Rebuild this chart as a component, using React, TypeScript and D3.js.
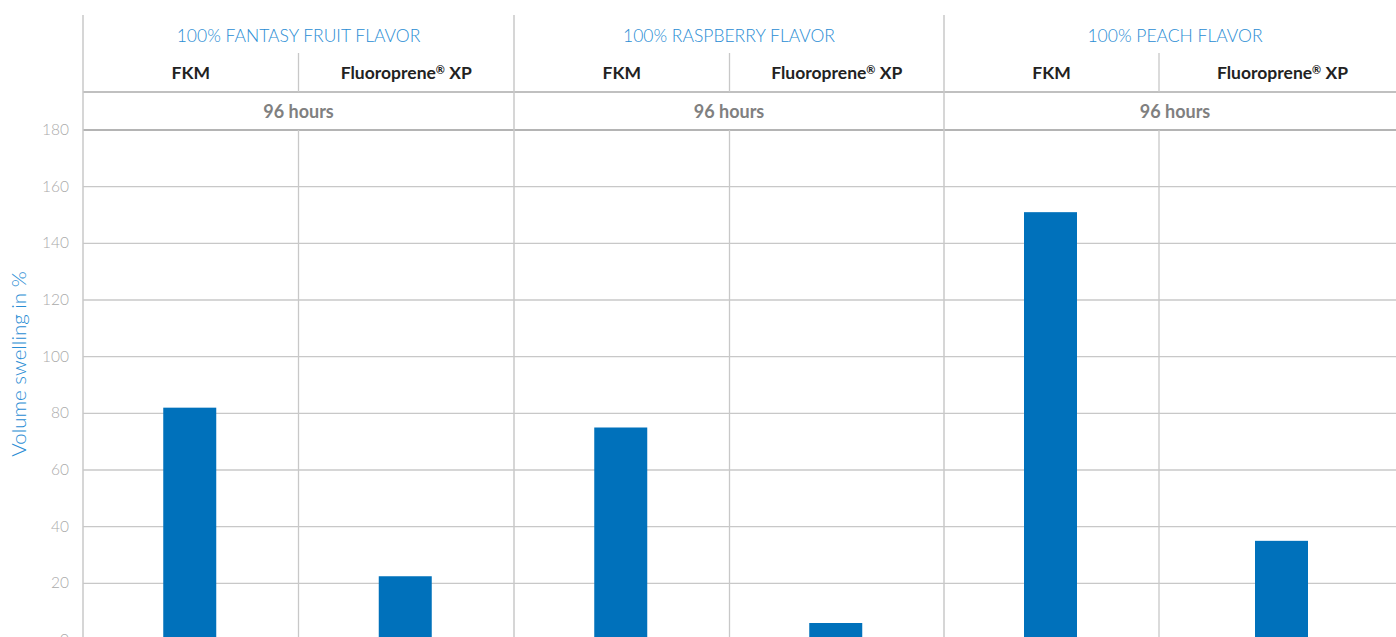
import React from "react";
import * as d3 from "d3";

const flavors = ["100% FANTASY FRUIT FLAVOR", "100% RASPBERRY FLAVOR", "100% PEACH FLAVOR"];
const materials = ["FKM", "Fluoroprene® XP"];
const duration = "96 hours";
const values = [
  [82, 22.5],
  [75, 6],
  [151, 35],
];
const yTicks = [0, 20, 40, 60, 80, 100, 120, 140, 160, 180];
const yTitle = "Volume swelling in %";

const W = 1396;
const H = 637;
const left = 83;
const plotTop = 130;
const zeroY = 640;
// column boundaries (the last group is wider and runs past the picture's right edge)
const colEdges = [83, 298.5, 514, 729.5, 944, 1159, 1406];

export default function App() {
  const y = d3.scaleLinear().domain([0, 180]).range([zeroY, plotTop]);
  const colStart = (g: number, i: number) => colEdges[g * 2 + i];
  const colEnd = (g: number, i: number) => colEdges[g * 2 + i + 1];
  const colMid = (g: number, i: number) => (colStart(g, i) + colEnd(g, i)) / 2;
  const barW = 53;
  const grid = "#c8c8c8";
  const font = "Lato, 'Open Sans', sans-serif";
  return (
    <svg width={W} height={H} style={{ position: "absolute", left: 0, top: 0, display: "block" }} fontFamily={font}>
      <rect width={W} height={H} fill="#fff" />
      {yTicks.filter((t) => t !== 180).map((t) => (
        <line key={t} x1={left} x2={W} y1={y(t)} y2={y(t)} stroke={grid} strokeWidth={1.3} />
      ))}
      <line x1={left} x2={W} y1={y(180)} y2={y(180)} stroke="#b4b4b4" strokeWidth={2} />
      <line x1={left} x2={W} y1={92} y2={92} stroke="#c0c0c0" strokeWidth={2} />
      <line x1={left} x2={left} y1={15} y2={H} stroke={grid} strokeWidth={1.5} />
      {[0, 1, 2].map((g) => {
        const gs = colStart(g, 0);
        const ge = colEnd(g, 1);
        const mid = colStart(g, 1);
        return (
          <g key={g}>
            {g > 0 && <line x1={gs} x2={gs} y1={15} y2={H} stroke={grid} strokeWidth={1.5} />}
            <line x1={mid} x2={mid} y1={53} y2={92} stroke={grid} strokeWidth={1.3} />
            <line x1={mid} x2={mid} y1={plotTop} y2={H} stroke={grid} strokeWidth={1.3} />
            <text x={(gs + ge) / 2} y={42} textAnchor="middle" fill="#2a8dd4" fontSize={17.5} fontWeight={300}>
              {flavors[g]}
            </text>
            {materials.map((m, i) => (
              <text key={m} x={colMid(g, i)} y={79} textAnchor="middle" fill="#222" fontSize={17.5} fontWeight={700}>
                {m === "Fluoroprene® XP" ? (
                  <>
                    Fluoroprene<tspan fontSize={11} dy={-5}>®</tspan><tspan dy={5}> XP</tspan>
                  </>
                ) : m}
              </text>
            ))}
            <text x={(gs + ge) / 2} y={118} textAnchor="middle" fill="#808080" fontSize={18} fontWeight={700}>
              {duration}
            </text>
            {values[g].map((v, i) => (
              <rect
                key={i}
                x={colMid(g, i) - barW / 2 - 1}
                y={y(v)}
                width={barW}
                height={zeroY - y(v)}
                fill="#0071bb"
              />
            ))}
          </g>
        );
      })}
      {yTicks.map((t) => (
        <text key={t} x={69} y={y(t) + 5} textAnchor="end" fill="#aaaaaa" fontSize={15.5} fontWeight={300}>
          {t}
        </text>
      ))}
      <text
        transform={`translate(26, ${364}) rotate(-90)`}
        textAnchor="middle"
        fill="#2a8dd4"
        fontSize={20.5}
        fontWeight={300}
      >
        {yTitle}
      </text>
    </svg>
  );
}
